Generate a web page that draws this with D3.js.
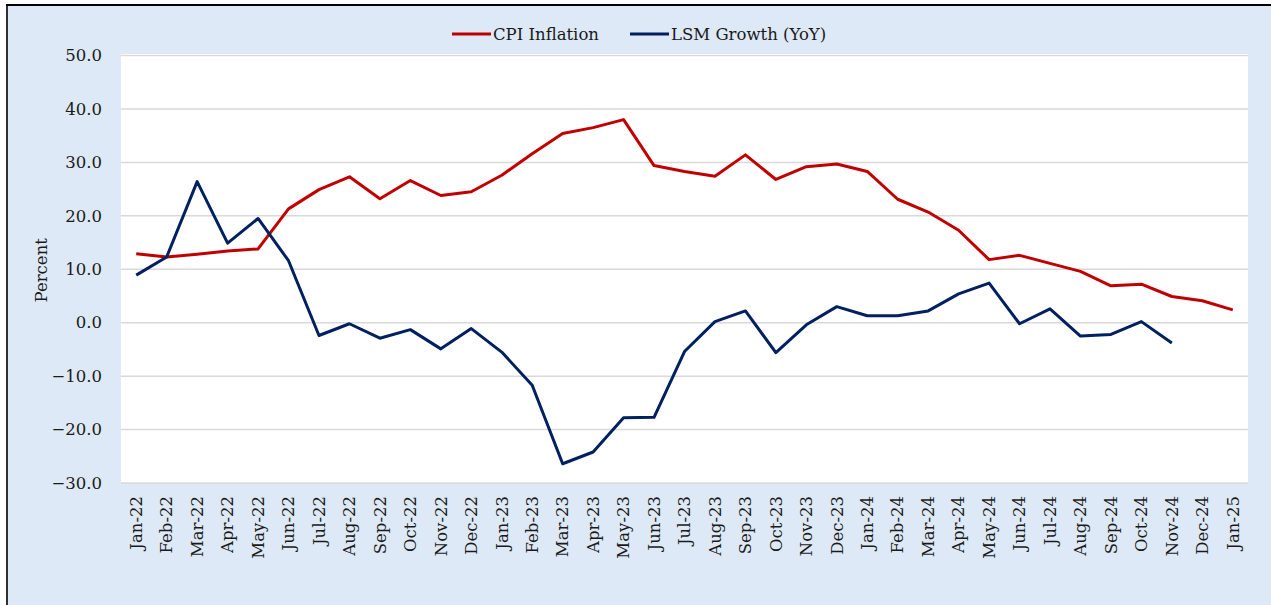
<!DOCTYPE html>
<html>
<head>
<meta charset="utf-8">
<script src="https://cdn.jsdelivr.net/npm/d3@7"></script>
<style>
  html, body { margin: 0; padding: 0; background: #ffffff; }
  svg { display: block; }
  text { font-family: "DejaVu Serif", "Liberation Serif", serif; fill: #1a1a1a; }
</style>
</head>
<body>
<svg id="chart" width="1271" height="605"></svg>
<script>
const categories = ["Jan-22","Feb-22","Mar-22","Apr-22","May-22","Jun-22","Jul-22","Aug-22","Sep-22","Oct-22","Nov-22","Dec-22",
  "Jan-23","Feb-23","Mar-23","Apr-23","May-23","Jun-23","Jul-23","Aug-23","Sep-23","Oct-23","Nov-23","Dec-23",
  "Jan-24","Feb-24","Mar-24","Apr-24","May-24","Jun-24","Jul-24","Aug-24","Sep-24","Oct-24","Nov-24","Dec-24","Jan-25"];

const cpiInflation = [12.9, 12.3, 12.8, 13.4, 13.8, 21.3, 24.9, 27.3, 23.2, 26.6, 23.8, 24.5,
  27.6, 31.6, 35.4, 36.5, 38.0, 29.4, 28.3, 27.4, 31.4, 26.8, 29.2, 29.7,
  28.3, 23.1, 20.7, 17.3, 11.8, 12.6, 11.1, 9.6, 6.9, 7.2, 4.9, 4.1, 2.4];

const lsmGrowth = [8.9, 12.3, 26.4, 14.9, 19.5, 11.6, -2.4, -0.2, -2.9, -1.3, -4.9, -1.1,
  -5.5, -11.7, -26.4, -24.2, -17.8, -17.7, -5.4, 0.2, 2.2, -5.6, -0.4, 3.0,
  1.3, 1.3, 2.2, 5.4, 7.4, -0.2, 2.6, -2.5, -2.2, 0.2, -3.8, null, null];

const yTicks = [50, 40, 30, 20, 10, 0, -10, -20, -30];
const seriesNames = ["CPI Inflation", "LSM Growth (YoY)"];
const seriesColors = ["#c00000", "#002060"];
const yTitle = "Percent";

const svg = d3.select("#chart");
const W = 1271, H = 605;

// frame background
svg.append("rect").attr("x", 7).attr("y", 5).attr("width", W - 7).attr("height", H - 5).attr("fill", "#dde9f6");
svg.append("line").attr("x1", 6).attr("x2", W).attr("y1", 5).attr("y2", 5).attr("stroke", "#000").attr("stroke-width", 2);
svg.append("line").attr("x1", 7).attr("x2", 7).attr("y1", 4).attr("y2", H).attr("stroke", "#000").attr("stroke-width", 1.6);

const plot = { left: 121, right: 1248, top: 55.5, bottom: 483 };

svg.append("rect").attr("x", plot.left).attr("y", plot.top - 1.5)
  .attr("width", plot.right - plot.left).attr("height", plot.bottom - plot.top + 1.5).attr("fill", "#ffffff");

const x = d3.scaleBand().domain(categories).range([plot.left, plot.right]).paddingInner(0).paddingOuter(0);
const y = d3.scaleLinear().domain([-30, 50]).range([plot.bottom, plot.top]);

// gridlines
svg.append("g").selectAll("line").data(yTicks).join("line")
  .attr("x1", plot.left).attr("x2", plot.right)
  .attr("y1", d => y(d)).attr("y2", d => y(d))
  .attr("stroke", "#d9d9d9").attr("stroke-width", 1.5);

// y axis
const yAxis = svg.append("g").attr("transform", `translate(${plot.left},0)`)
  .call(d3.axisLeft(y).tickValues(yTicks).tickFormat(d3.format(".1f")).tickSize(0).tickPadding(19));
yAxis.select(".domain").remove();
yAxis.selectAll("text").attr("font-size", "16.5px").attr("font-family", "DejaVu Serif").attr("fill", "#1a1a1a");

// x axis
const xAxis = svg.append("g").attr("transform", `translate(0,${plot.bottom})`)
  .call(d3.axisBottom(x).tickSize(0));
xAxis.select(".domain").remove();
xAxis.selectAll("text")
  .attr("font-size", "16.5px").attr("font-family", "DejaVu Serif").attr("fill", "#1a1a1a")
  .attr("text-anchor", "end")
  .attr("dy", "0.35em")
  .attr("transform", "translate(0,13) rotate(-90)")
  .attr("x", 0).attr("y", 0);

// y title
svg.append("text")
  .attr("transform", `translate(41,${(y(20) + y(0)) / 2 + 1}) rotate(-90)`)
  .attr("text-anchor", "middle").attr("dominant-baseline", "central")
  .attr("font-size", "16.5px").text(yTitle);

// lines
const seriesData = [cpiInflation, lsmGrowth];
const line = d3.line()
  .defined(d => d.v !== null)
  .x(d => x(d.c) + x.bandwidth() / 2)
  .y(d => y(d.v));

seriesData.forEach((vals, i) => {
  const pts = categories.map((c, j) => ({ c, v: vals[j] }));
  svg.append("path").datum(pts)
    .attr("fill", "none").attr("stroke", seriesColors[i]).attr("stroke-width", 3)
    .attr("stroke-linejoin", "round").attr("stroke-linecap", "butt")
    .attr("d", line);
});

// legend
const legendItems = [{ x: 452 }, { x: 630 }];
legendItems.forEach((it, i) => {
  const g = svg.append("g").attr("transform", `translate(${it.x},34)`);
  g.append("line").attr("x1", 0).attr("x2", 39).attr("y1", 0).attr("y2", 0)
    .attr("stroke", seriesColors[i]).attr("stroke-width", 3);
  g.append("text").attr("x", 41).attr("y", 0).attr("dominant-baseline", "central")
    .attr("font-size", "16.5px").text(seriesNames[i]);
});
</script>
</body>
</html>
